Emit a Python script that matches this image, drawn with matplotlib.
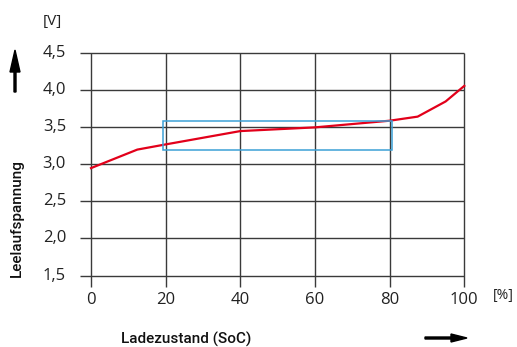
import numpy as np
import matplotlib.pyplot as plt
from matplotlib.patches import FancyArrow

# Daten: Ladezustand (SoC) in % und Leerlaufspannung in V
soc = [0, 12.4, 20, 40, 60, 80, 87.5, 95, 100]
spannung = [2.95, 3.2, 3.27, 3.45, 3.50, 3.59, 3.645, 3.85, 4.06]

x_ticks = [0, 20, 40, 60, 80, 100]
y_ticks = [1.5, 2.0, 2.5, 3.0, 3.5, 4.0, 4.5]
y_labels = ['1,5', '2,0', '2,5', '3,0', '3,5', '4,0', '4,5']

# Bereich des blauen Rahmens (SoC von-bis, Spannung von-bis)
rahmen_x = [19.4, 80.5]
rahmen_y = [3.2, 3.59]

W, H = 517, 347
fig = plt.figure(figsize=(W / 100, H / 100), dpi=100)
ax = fig.add_axes([80 / W, 60 / H, 384.3 / W, 233.7 / H])

x_min, y_min = -2.95, 1.345
ax.set_xlim(x_min, 100)
ax.set_ylim(y_min, 4.5)
ax.axis('off')

# Gitter
grid_col = '#3a3a3a'
ax.hlines(y_ticks, x_min, 100, color=grid_col, lw=1.0, clip_on=False)
ax.vlines(x_ticks, y_min, 4.5, color=grid_col, lw=1.0, clip_on=False)

# Kennlinie
ax.plot(soc, spannung, color='#e2001a', lw=1.6, clip_on=False, zorder=3)

# Rahmen
ax.add_patch(plt.Rectangle((rahmen_x[0], rahmen_y[0]), rahmen_x[1] - rahmen_x[0],
                           rahmen_y[1] - rahmen_y[0], fill=False,
                           edgecolor='#3ca0d6', lw=1.1, zorder=4))

tick_font = 'Open Sans'
for v, lab in zip(y_ticks, y_labels):
    ax.annotate(lab, (x_min, v), xytext=(-14, 0), textcoords='offset pixels',
                ha='right', va='center', fontsize=12, family=tick_font, color='#222222')
for v in x_ticks:
    ax.annotate(str(v), (v, y_min), xytext=(0, -13), textcoords='offset pixels',
                ha='center', va='center', fontsize=12, family=tick_font, color='#222222')

# Einheiten
fig.text(52 / W, 1 - 21 / H, '[V]', ha='center', va='center', fontsize=11,
         family=tick_font, color='#222222')
fig.text(503 / W, 1 - 296 / H, '[%]', ha='center', va='center', fontsize=10,
         family=tick_font, color='#222222')

# Achsenbeschriftungen
fig.text(17 / W, 1 - 218 / H, 'Leelaufspannung', rotation=90, ha='center', va='center',
         fontsize=11, family='Roboto', weight='medium', color='#111111')
fig.text(186 / W, 1 - 339 / H, 'Ladezustand (SoC)', ha='center', va='center',
         fontsize=11, family='Roboto', weight='medium', color='#111111')

# Pfeile
fig.add_artist(FancyArrow(
    15 / W, 1 - 92 / H, 0, 42 / H, width=2 / W, head_width=10 / W,
    head_length=22 / H, length_includes_head=True, color='black',
    transform=fig.transFigure))
fig.add_artist(FancyArrow(
    425 / W, 1 - 338 / H, 42 / W, 0, width=2 / H, head_width=8 / H,
    head_length=16 / W, length_includes_head=True, color='black',
    transform=fig.transFigure))

fig.savefig('out.png', dpi=100)
